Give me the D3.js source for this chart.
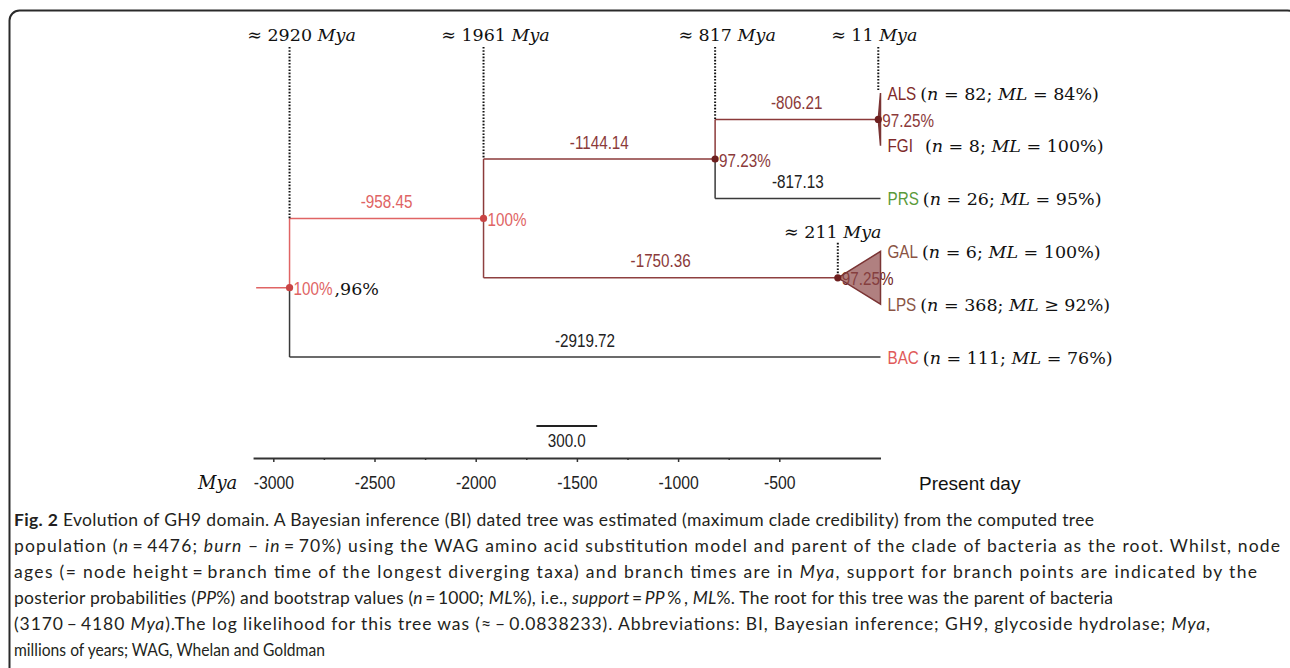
<!DOCTYPE html>
<html>
<head>
<meta charset="utf-8">
<script src="https://cdn.jsdelivr.net/npm/d3@7"></script>
<style>
  html, body { margin: 0; padding: 0; background: #fff; }
  svg { display: block; }
</style>
</head>
<body>
<svg id="fig" width="1290" height="668"></svg>
<script>
// ---------------- data ----------------
const taxa   = ["ALS", "FGI", "PRS", "GAL", "LPS", "BAC"];
const taxaN  = [82, 8, 26, 6, 368, 111];
const taxaML = ["= 84%", "= 100%", "= 95%", "= 100%", "≥ 92%", "= 76%"];

// tree: each node, its parent and the branch time (Mya) leading into it
const nodeIds     = ["root", "N1961", "N817", "N11", "PRS", "N211", "BAC"];
const nodeParents = ["", "root", "N1961", "N817", "N817", "N1961", "root"];
const branchTimes = [null, -958.45, -1144.14, -806.21, -817.13, -1750.36, -2919.72];
const nodeSupport = ["100%", "100%", "97.23%", "97.25%", "", "97.25%", ""];
const rootAge = 2919.72;
const rootStem = 165;
const rootBootstrap = ",96%";

// collapsed clades drawn as triangles
const cladeNodes = ["N11", "N211"];
const cladeTaxa  = [["ALS", "FGI"], ["GAL", "LPS"]];

// time axis
const axisMajor = [-3000, -2500, -2000, -1500, -1000, -500];
const axisMinor = [-2750, -2250, -1750, -1250, -750];
const scaleBarMya = 300;

// caption (thin spaces around the tight "=" signs)
const T = "\u2009";
const captionLines = [
  [["Fig. 2", "b"], [" Evolution of GH9 domain. A Bayesian inference (BI) dated tree was estimated (maximum clade credibility) from the computed tree", ""]],
  [["population (", ""], ["n", "i"], [T + "=" + T + "4476; ", ""], ["burn", "i"], [" – ", ""], ["in", "i"], [T + "=" + T + "70%) using the WAG amino acid substitution model and parent of the clade of bacteria as the root. Whilst, node", ""]],
  [["ages (= node height" + T + "=" + T + "branch time of the longest diverging taxa) and branch times are in ", ""], ["Mya", "i"], [", support for branch points are indicated by the", ""]],
  [["posterior probabilities (", ""], ["PP", "i"], ["%) and bootstrap values (", ""], ["n", "i"], [T + "=" + T + "1000; ", ""], ["ML", "i"], ["%), i.e., ", ""], ["support", "i"], [T + "=" + T, ""], ["PP", "i"], [T + "%" + T + ", ", ""], ["ML", "i"], ["%. The root for this tree was the parent of bacteria", ""]],
  [["(3170" + T + "–" + T + "4180 ", ""], ["Mya", "i"], [").The log likelihood for this tree was (≈" + T + "–" + T + "0.0838233). Abbreviations: BI, Bayesian inference; GH9, glycoside hydrolase; ", ""], ["Mya", "i"], [",", ""]],
  [["millions of years; WAG, Whelan and Goldman", ""]]
];
const captionWidths = [1080, 1266, 1243, 1099, 1196, 311];

// ---------------- styles ----------------
const SANS = '"Liberation Sans", Arial, sans-serif';
const MATH = '"DejaVu Serif", serif';
const CAP  = 'Lato, "Open Sans", sans-serif';
const LBL = 17.5;      // label font size
const NARROW = 0.87;   // horizontal condensing of label text
const branchColor = { N1961: "#e06464", N817: "#8b3a3a", N11: "#8b3a3a", PRS: "#3a3a3a", N211: "#8e4040", BAC: "#3a3a3a" };
const labelColor  = { N1961: "#e06464", N817: "#8b3a3a", N11: "#8b3a3a", PRS: "#222", N211: "#8b3a3a", BAC: "#222" };
const supportColor = { root: "#e06464", N1961: "#e06464", N817: "#8b3a3a", N11: "#8b3a3a", N211: "#6e2323" };
const dotColor = { root: "#c94444", N1961: "#c94444", N817: "#6e1f1f", N11: "#6e1f1f", N211: "#6e1f1f" };
const taxonColor = { ALS: "#7f2a2a", FGI: "#7f2a2a", PRS: "#5a9a3a", GAL: "#8a5444", LPS: "#8a5444", BAC: "#e05a5a" };

// squeeze sans labels horizontally to the narrow face used in the figure;
// the squeezed width is kept on the element as data-w
function condense(sel, f) {
  sel.each(function () {
    const w = this.getComputedTextLength() * f;
    d3.select(this).attr("textLength", w).attr("lengthAdjust", "spacingAndGlyphs").attr("data-w", w);
  });
  return sel;
}
const widthOf = sel => +sel.attr("data-w");

// ---------------- scales ----------------
const svg = d3.select("#fig");
svg.append("rect").attr("width", 1290).attr("height", 668).attr("fill", "#fff");

const x = d3.scaleLinear().domain([-3000, 0]).range([273.3, 880.5]);
const yLeaf = d3.scaleLinear().domain([0, taxa.length - 1]).range([93, 357]);

// node ages
const age = {};
nodeIds.forEach((id, i) => {
  age[id] = i === 0 ? rootAge : age[nodeParents[i]] + branchTimes[i];
});
// node vertical positions
const children = id => nodeIds.filter((_, i) => nodeParents[i] === id);
const yPos = {};
function placeY(id) {
  const ci = cladeNodes.indexOf(id);
  if (ci >= 0) return (yPos[id] = d3.mean(cladeTaxa[ci], t => yLeaf(taxa.indexOf(t))));
  const ch = children(id);
  if (!ch.length) return (yPos[id] = yLeaf(taxa.indexOf(id)));
  return (yPos[id] = d3.mean(ch.map(placeY)));
}
placeY("root");
const X = id => x(-age[id]);

// ---------------- frame ----------------
svg.append("rect")
  .attr("x", 9.5).attr("y", 10.5).attr("width", 1288).attr("height", 720).attr("rx", 10)
  .attr("fill", "none").attr("stroke", "#2a2a2a").attr("stroke-width", 2);

const g = svg.append("g");

// root stem
g.append("line")
  .attr("x1", x(-(rootAge + rootStem))).attr("x2", X("root"))
  .attr("y1", yPos.root).attr("y2", yPos.root)
  .attr("stroke", branchColor.N1961).attr("stroke-width", 1.5);

// branches: vertical connectors then horizontal
const edges = nodeIds.slice(1).map((id, k) => ({ id, parent: nodeParents[k + 1], t: branchTimes[k + 1] }));
g.selectAll(".vert").data(edges).join("line")
  .attr("x1", d => X(d.parent)).attr("x2", d => X(d.parent))
  .attr("y1", d => yPos[d.parent]).attr("y2", d => yPos[d.id])
  .attr("stroke", d => branchColor[d.id]).attr("stroke-width", 1.5);
g.selectAll(".horiz").data(edges).join("line")
  .attr("x1", d => X(d.parent)).attr("x2", d => X(d.id))
  .attr("y1", d => yPos[d.id]).attr("y2", d => yPos[d.id])
  .attr("stroke", d => branchColor[d.id]).attr("stroke-width", 1.5);
condense(g.selectAll(".blabel").data(edges).join("text")
  .attr("x", d => (X(d.parent) + X(d.id)) / 2).attr("y", d => yPos[d.id] - 10.5)
  .attr("text-anchor", "middle").attr("font-family", SANS).attr("font-size", LBL)
  .attr("fill", d => labelColor[d.id]).text(d => d.t.toFixed(2)), NARROW);

// support labels
const internal = nodeIds.filter((id, i) => nodeSupport[i] !== "");
internal.forEach(id => {
  const t = g.append("text").attr("x", X(id) + 4).attr("y", yPos[id] + 7.5)
    .attr("font-family", SANS).attr("font-size", LBL).attr("fill", supportColor[id])
    .text(nodeSupport[nodeIds.indexOf(id)]);
  condense(t, NARROW);
  if (id === "root") {
    g.append("text").attr("x", X(id) + 4 + widthOf(t) + 2)
      .attr("y", yPos[id] + 7.5).attr("font-family", MATH).attr("font-size", 17.5)
      .attr("fill", "#111").text(rootBootstrap);
  }
});

// collapsed clades (semi-transparent, so the support label shows through)
cladeNodes.forEach((id, ci) => {
  const ys = cladeTaxa[ci].map(t => yLeaf(taxa.indexOf(t)));
  const pts = [[X(id), yPos[id]], [x(0), d3.min(ys)], [x(0), d3.max(ys)]];
  g.append("polygon").attr("points", pts.map(p => p.join(",")).join(" "))
    .attr("fill", id === "N211" ? "#8e4a4a" : "#8b3a3a")
    .attr("fill-opacity", id === "N211" ? 0.7 : 1)
    .attr("stroke", "#7a3434").attr("stroke-width", 1.5);
});

// node dots
g.selectAll(".dot").data(internal).join("circle")
  .attr("cx", d => X(d)).attr("cy", d => yPos[d]).attr("r", 3.6)
  .attr("fill", d => dotColor[d]);

// taxon labels
taxa.forEach((name, i) => {
  const nm = g.append("text").attr("x", x(0) + 7).attr("y", yLeaf(i) + 6.5)
    .attr("font-family", SANS).attr("font-size", LBL).attr("fill", taxonColor[name]).text(name);
  condense(nm, NARROW);
  const m = g.append("text").attr("x", x(0) + 7 + widthOf(nm) + (name === "FGI" ? 12 : 4)).attr("y", yLeaf(i) + 6.5)
    .attr("font-family", MATH).attr("font-size", 17.5).attr("fill", "#111");
  m.append("tspan").text("(");
  m.append("tspan").attr("font-style", "italic").text("n");
  m.append("tspan").text(" = " + taxaN[i] + "; ");
  m.append("tspan").attr("font-style", "italic").text("ML");
  m.append("tspan").text(" " + taxaML[i] + ")");
});

// node-age markers (dotted guides + ≈ age labels)
function ageLabel(xc, yb, id) {
  const t = g.append("text").attr("x", xc).attr("y", yb).attr("text-anchor", "middle")
    .attr("font-family", MATH).attr("font-size", 17.5).attr("fill", "#111");
  t.append("tspan").text("≈ " + Math.round(age[id]) + " ");
  t.append("tspan").attr("font-style", "italic").text("Mya");
}
const topMarked = ["root", "N1961", "N817", "N11"];
topMarked.forEach(id => {
  const ci = cladeNodes.indexOf(id);
  const yEnd = ci >= 0 ? d3.min(cladeTaxa[ci], t => yLeaf(taxa.indexOf(t))) - 3
                       : d3.min(children(id), c => yPos[c]);
  g.append("line").attr("x1", X(id)).attr("x2", X(id)).attr("y1", 47).attr("y2", yEnd)
    .attr("stroke", "#111").attr("stroke-width", 2).attr("stroke-dasharray", "1.6,1.6");
  ageLabel(X(id) + (age[id] < 300 ? -4 : 12), 41, id);
});
// local marker for the GAL/LPS clade
g.append("line").attr("x1", X("N211")).attr("x2", X("N211"))
  .attr("y1", yPos.N211 - 35).attr("y2", yPos.N211 - 3)
  .attr("stroke", "#111").attr("stroke-width", 2).attr("stroke-dasharray", "1.6,1.6");
ageLabel(X("N211") - 5, yPos.N211 - 40, "N211");

// ---------------- scale bar ----------------
const barX0 = x(-1700);
const barW = x(scaleBarMya) - x(0);
g.append("line").attr("x1", barX0).attr("x2", barX0 + barW)
  .attr("y1", 426).attr("y2", 426).attr("stroke", "#222").attr("stroke-width", 2);
condense(g.append("text").attr("x", barX0 + barW / 2).attr("y", 447)
  .attr("text-anchor", "middle").attr("font-family", SANS).attr("font-size", LBL)
  .attr("fill", "#222").text(scaleBarMya.toFixed(1)), NARROW);

// ---------------- time axis ----------------
const xAxisScale = x.copy().domain([-3100, 0]).range([x(-3100), x(0)]);
const axisG = svg.append("g").attr("transform", "translate(0,458)");
axisG.call(d3.axisBottom(xAxisScale).tickValues(axisMajor).tickSize(4).tickSizeOuter(0).tickFormat(d => String(d)));
axisG.append("g").call(d3.axisBottom(xAxisScale).tickValues(axisMinor).tickSize(2).tickSizeOuter(0).tickFormat(""))
  .select(".domain").remove();
axisG.selectAll(".domain").attr("stroke", "#333").attr("stroke-width", 2);
axisG.selectAll(".tick line").attr("stroke", "#333").attr("stroke-width", 1.5);
condense(axisG.selectAll(".tick text").attr("y", 31).attr("dy", null)
  .attr("font-family", SANS).attr("font-size", LBL).attr("fill", "#222"), 0.9);

svg.append("text").attr("x", 198).attr("y", 489).attr("font-family", MATH)
  .attr("font-style", "italic").attr("font-size", 18).attr("fill", "#111").text("Mya");
svg.append("text").attr("x", 919).attr("y", 490).attr("font-family", SANS)
  .attr("font-size", 19).attr("fill", "#111").text("Present day");

// ---------------- caption ----------------
// each line is fitted to its width: letter spacing widens short lines,
// glyphs narrow slightly on lines that run long
captionLines.forEach((segs, li) => {
  const t = svg.append("text").attr("x", 14).attr("y", 526 + li * 26)
    .attr("font-family", CAP).attr("font-size", 17.5).attr("fill", "#231f20");
  segs.forEach(([s, st]) => {
    const sp = t.append("tspan").text(s);
    if (st === "b") sp.attr("font-weight", "bold");
    if (st === "i") sp.attr("font-style", "italic");
  });
  const natural = t.node().getComputedTextLength();
  t.attr("textLength", captionWidths[li])
   .attr("lengthAdjust", natural > captionWidths[li] ? "spacingAndGlyphs" : "spacing");
});
</script>
</body>
</html>
